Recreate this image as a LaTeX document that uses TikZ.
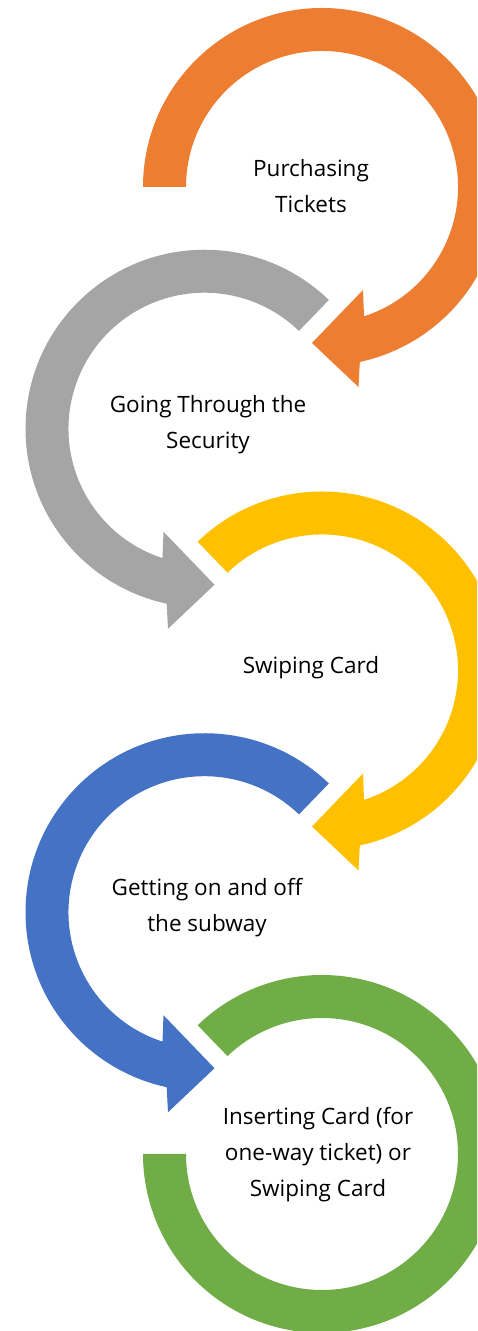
\documentclass[tikz,border=0pt]{standalone}
\usepackage{fontspec}
\setmainfont{Open Sans}
\definecolor{corange}{HTML}{ED7D31}
\definecolor{cgrey}{HTML}{A5A5A5}
\definecolor{cyellow}{HTML}{FFC000}
\definecolor{cblue}{HTML}{4472C4}
\definecolor{cgreen}{HTML}{70AD47}
\newcommand\ringright[4]{% cx, cy, colour, start angle
  \fill[#3, shift={(#1,#2)}] (#4:179) arc[start angle=#4, end angle=-77.8, radius=179]
    -- (36.5,-200) -- (-10,-156) -- (41,-103) -- (-72:136)
    arc[start angle=-72, end angle=#4, radius=136] -- cycle;}
\newcommand\ringleft[4]{% cx, cy, colour, start angle
  \fill[#3, shift={(#1,#2)}] (#4:179) arc[start angle=#4, end angle=257.8, radius=179]
    -- (-36.5,-200) -- (10,-156) -- (-41,-103) -- (252:136)
    arc[start angle=252, end angle=#4, radius=136] -- cycle;}
\begin{document}
\begin{tikzpicture}[x=1pt,y=1pt,
  lbl/.style={align=center, font=\fontsize{22.5}{36}\selectfont, inner sep=0pt, text=black}]
\useasboundingbox (0,0) rectangle (477,1331);
\clip (0,0) rectangle (477,1331);
% rings
\ringright{322}{1144}{corange}{180}
\ringleft{204.5}{902.25}{cgrey}{46}
\ringright{322}{660.5}{cyellow}{134}
\ringleft{204.5}{418.75}{cblue}{46}
\fill[cgreen, shift={(322,177)}] (134:179) arc[start angle=134, end angle=-180, radius=179]
  -- (-180:136) arc[start angle=-180, end angle=134, radius=136] -- cycle;
% labels
\node[lbl] (t1) at (311,1145) {Purchasing\\Tickets};
\node[lbl] (t2) at (208,906) {Going Through the\\Security};
\node[lbl] (t3) at (311,663) {Swiping Card};
\node[lbl] (t4) at (207,423.5) {Getting on and off\\the subway};
\node[lbl] (t5) at (318,176) {Inserting Card (for\\one-way ticket) or\\Swiping Card};
\end{tikzpicture}
\end{document}
